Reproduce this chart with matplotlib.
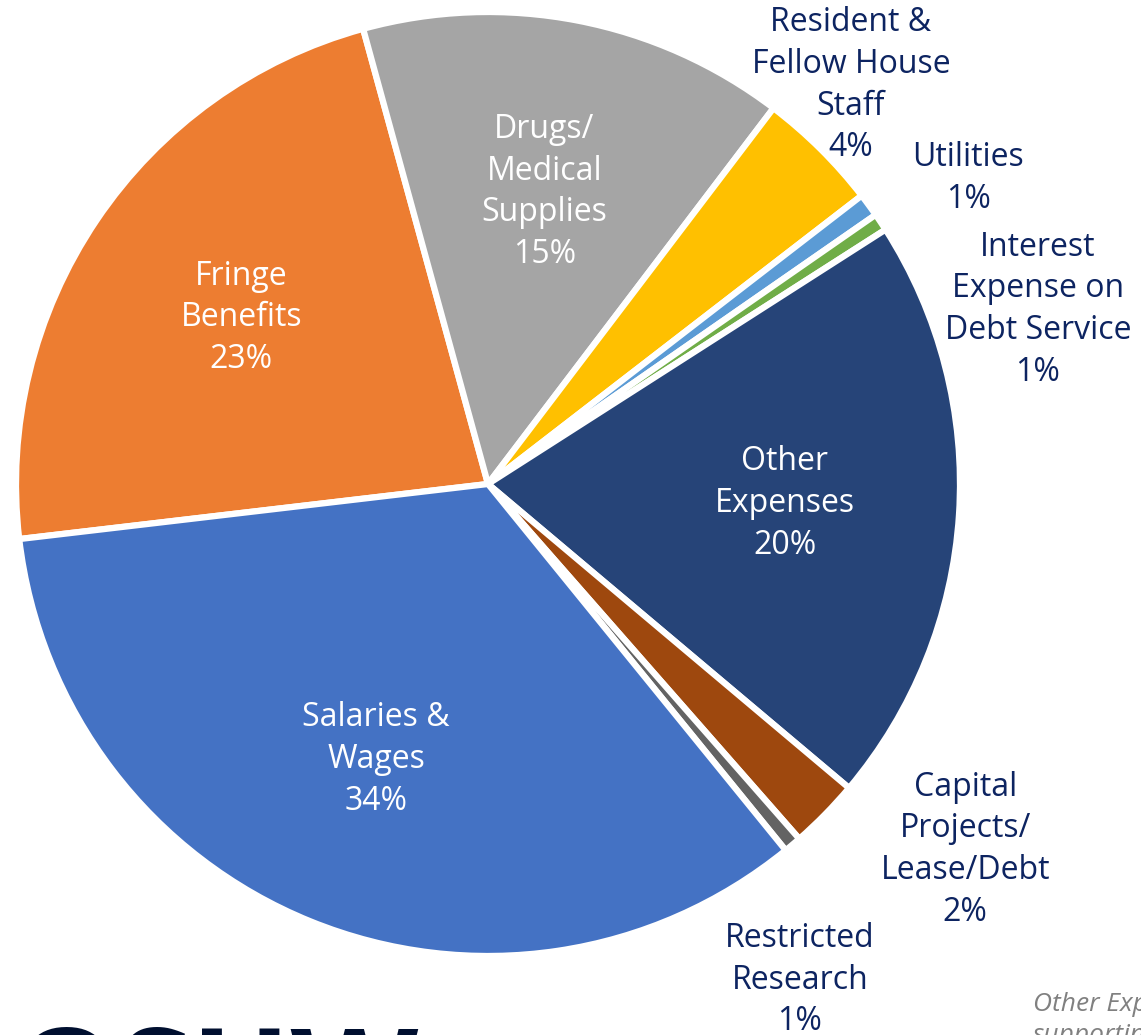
import matplotlib.pyplot as plt
import numpy as np

# expense categories, clockwise from the left edge
labels = ["Fringe\nBenefits", "Drugs/\nMedical\nSupplies", "Resident &\nFellow House\nStaff",
          "Utilities", "Interest\nExpense on\nDebt Service", "Other\nExpenses",
          "Capital\nProjects/\nLease/Debt", "Restricted\nResearch", "Salaries &\nWages"]
shares = [22.6, 14.6, 4.2, 0.8, 0.6, 20.2, 2.4, 0.6, 34.0]
colors = ["#ED7D31", "#A5A5A5", "#FFC000", "#5B9BD5", "#70AD47",
          "#264478", "#9E480E", "#636363", "#4472C4"]
inside = [True, True, False, False, False, True, False, False, True]

# where the outside labels sit (pie radius = 1)
outside_xy = {2: (0.769, 0.845), 3: (1.018, 0.648), 4: (1.165, 0.369),
              6: (1.011, -0.775), 7: (0.661, -1.051)}

navy = "#0d2461"
plt.rcParams['font.family'] = ['Open Sans', 'DejaVu Sans']

fig = plt.figure(figsize=(11.41, 10.35), dpi=100)
ax = fig.add_axes([0, 0, 1, 1])

wedges, _ = ax.pie(shares, colors=colors, startangle=186.7, counterclock=False,
                   radius=1.0, wedgeprops=dict(edgecolor="white", linewidth=4.5))

for i, w in enumerate(wedges):
    txt = "%s\n%.0f%%" % (labels[i], shares[i])
    if inside[i]:
        mid = np.deg2rad((w.theta1 + w.theta2) / 2)
        r = 0.63
        ax.text(r * np.cos(mid), r * np.sin(mid), txt, color="white", fontsize=23,
                ha="center", va="center", linespacing=1.35)
    else:
        x, y = outside_xy[i]
        ax.text(x, y, txt, color=navy, fontsize=23, ha="center", va="center",
                linespacing=1.35)

# logo cut off at the bottom, footnote cut off at the right
ax.text(-1.005, -1.355, "OSUW", color="#000f2f", fontsize=95, fontweight="bold",
        ha="left", va="baseline")
ax.text(1.155, -1.135, "Other Expenses include\nsupporting", color="#808080",
        fontsize=19, style="italic", ha="left", va="center", linespacing=1.3)

ax.set_xlim(-488 / 472, (1141 - 488) / 472)
ax.set_ylim(-(1035 - 484) / 472, 484 / 472)
ax.set_aspect("auto")
ax.axis("off")

fig.savefig("out.png", dpi=100)
